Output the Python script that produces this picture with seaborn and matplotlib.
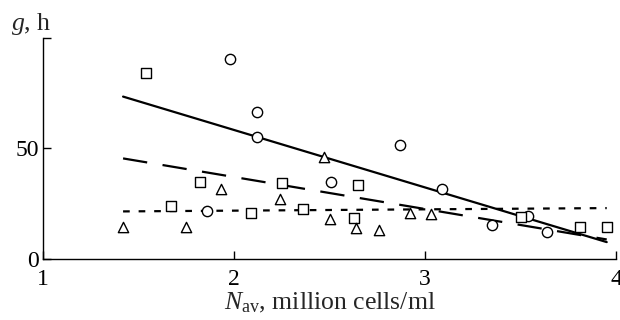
import matplotlib
matplotlib.use("Agg")
import matplotlib.pyplot as plt
import seaborn as sns
import pandas as pd

# ---- data ----
circle_x = [1.98, 2.12, 2.12, 2.87, 1.86, 2.51, 3.09, 3.35, 3.54, 3.64]
circle_y = [90.5, 66.5, 55.0, 51.5, 21.5, 35.0, 31.5, 15.5, 19.5, 12.0]

square_x = [1.54, 1.82, 1.67, 2.25, 2.09, 2.36, 2.65, 2.63, 3.50, 3.81, 3.95]
square_y = [84.0, 35.0, 24.0, 34.5, 21.0, 22.5, 33.5, 18.5, 19.0, 14.5, 14.5]

tri_x = [1.42, 1.75, 1.93, 2.24, 2.47, 2.50, 2.64, 2.76, 2.92, 3.03]
tri_y = [14.5, 14.5, 31.5, 27.0, 46.0, 18.0, 14.0, 13.0, 21.0, 20.5]

fit_x = [1.42, 3.95]
fit_solid = [73.5, 7.6]
fit_dashed = [45.5, 8.8]
fit_dotted = [21.5, 23.0]

x_ticks = [1, 2, 3, 4]
y_ticks = [0, 50]

sns.set_theme(style="ticks")
plt.rcParams["font.family"] = ["Liberation Serif", "DejaVu Serif"]
plt.rcParams["mathtext.fontset"] = "custom"
plt.rcParams["mathtext.rm"] = "Liberation Serif"
plt.rcParams["mathtext.it"] = "Liberation Serif:italic"

fig = plt.figure(figsize=(6.2, 3.2), dpi=100)
ax = fig.add_axes([0.069, 0.191, 0.925, 0.69])

lines_df = pd.DataFrame({"x": fit_x * 3,
                         "y": fit_solid + fit_dashed + fit_dotted,
                         "s": ["solid"] * 2 + ["dashed"] * 2 + ["dotted"] * 2})
sns.lineplot(data=lines_df[lines_df.s == "solid"], x="x", y="y", ax=ax,
             color="black", lw=1.6, zorder=2)
sns.lineplot(data=lines_df[lines_df.s == "dashed"], x="x", y="y", ax=ax,
             color="black", lw=1.6, zorder=2, dashes=False)
ax.lines[-1].set_dashes([11, 7])
sns.lineplot(data=lines_df[lines_df.s == "dotted"], x="x", y="y", ax=ax,
             color="black", lw=1.6, zorder=2)
ax.lines[-1].set_dashes([3, 4])

kw = dict(ax=ax, facecolor="white", edgecolor="black", linewidth=1.0,
          s=55, zorder=3, legend=False)
sns.scatterplot(x=circle_x, y=circle_y, marker="o", **kw)
sns.scatterplot(x=square_x, y=square_y, marker="s", **kw)
sns.scatterplot(x=tri_x, y=tri_y, marker="^", **kw)

ax.set_xlim(1, 4)
ax.set_ylim(0, 100)
ax.set_xticks(x_ticks)
ax.set_xticklabels([str(t) for t in x_ticks])
ax.set_yticks(y_ticks + [100])
ax.set_yticklabels([str(t) for t in y_ticks] + [""])
ax.tick_params(axis="both", direction="in", length=6, width=1.0,
               labelsize=17, colors="black", pad=3)
ax.tick_params(axis="x", pad=7)
for side in ["top", "right"]:
    ax.spines[side].set_visible(False)
for side in ["left", "bottom"]:
    ax.spines[side].set_color("black")
    ax.spines[side].set_linewidth(1.0)

ax.set_xlabel(r"$N_{\rm av}$, million cells/ml", fontsize=18.5, labelpad=1)
ax.set_ylabel("")
fig.text(0.018, 0.925, r"$g$, h", fontsize=18.5, ha="left", va="center")

fig.savefig("out.png", dpi=100)
